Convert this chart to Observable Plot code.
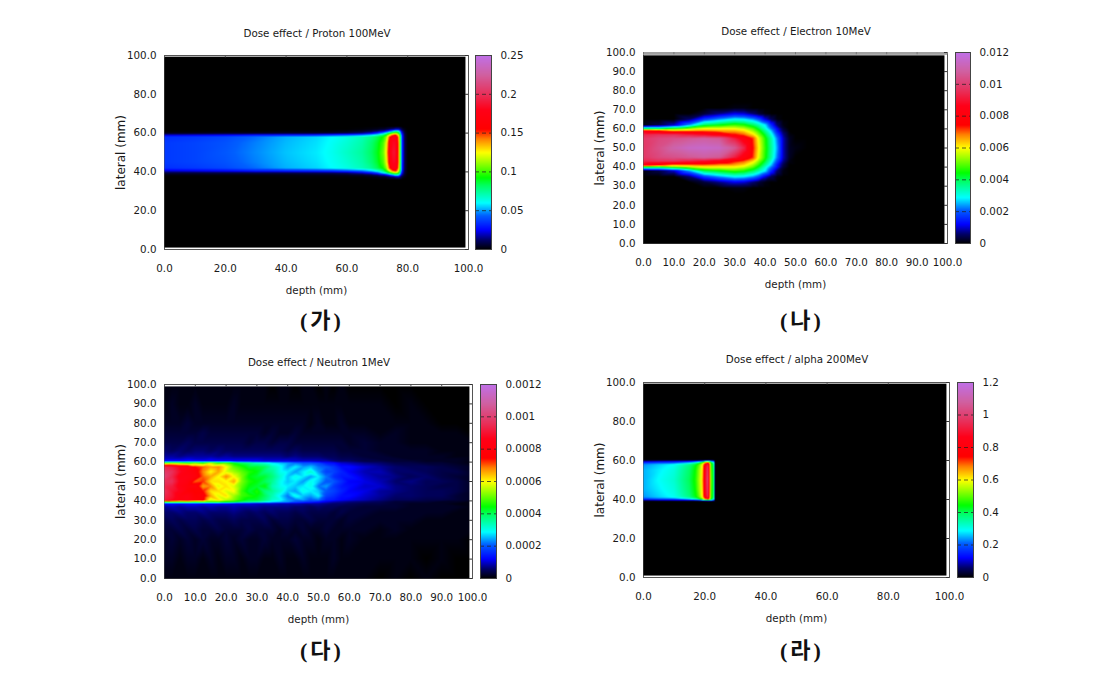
<!DOCTYPE html>
<html lang="ko">
<head>
<meta charset="utf-8">
<script src="https://cdn.jsdelivr.net/npm/d3@7"></script>
<script src="https://cdn.jsdelivr.net/npm/@observablehq/plot@0.6"></script>
<style>
html,body{margin:0;padding:0;background:#fff}
#page{position:relative;width:1100px;height:683px;overflow:hidden;background:#fff}
#page>svg{position:absolute}
.title{position:absolute;transform:translate(-50%,-50%);font:10.3px "DejaVu Sans",sans-serif;color:#1a1a1a;white-space:nowrap}
.cap{position:absolute;transform:translate(-50%,-50%);font:700 22px "Liberation Serif","Noto Sans CJK KR",serif;letter-spacing:3px;color:#111;white-space:nowrap}
</style>
</head>
<body>
<div id="page"></div>
<script>
// Palette stops as fractions of each colour bar.
const paletteStops = [0, 0.05, 0.1, 0.175, 0.24, 0.33, 0.37, 0.45, 0.5, 0.57, 0.62, 0.72, 0.8, 0.9, 1];
const paletteColors = ["#000000","#00006a","#0000ff","#0060ff","#00ffff","#00ff60","#00ff00","#a0ff00","#ffff00","#ff8000","#ff0000","#ff0018","#e8305a","#d060a0","#c070e8"];

// (가) Proton 100 MeV. Values in units of 0.001.
const protonDepth = [0,10,20,30,40,50,55,60,65,68,70,72,73,74,75,76,77,77.5,78,79,80,85,100];
const protonLateral = [0,36,37.5,38.5,39.5,40.5,42,45,50,55,58,59,60,61,62,63.5,100];
const protonValues = [
[0,0,0,0,0,0,0,0,0,0,0,0,0,0,0,0,0,0,0,0,0,0,0],
[0,0,0,0,0,0,0,0,0,0,0,0,0,0,0,0,0,0,0,0,0,0,0],
[0,0,0,0,1,1,1,1,1,2,3,5,7,10,14,20,22,15,8,2,0,0,0],
[2,2,2,2,2,3,3,4,6,9,14,22,30,40,55,70,65,45,20,4,0,0,0],
[8,8,9,10,10,11,12,14,22,30,40,60,75,90,105,115,100,70,30,6,0,0,0],
[22,24,26,30,32,34,36,40,46,55,65,80,95,120,145,155,125,85,35,7,0,0,0],
[34,36,39,45,52,56,60,64,70,76,84,95,110,150,175,178,140,95,38,8,0,0,0],
[36,38,41,47,53,57,61,66,72,80,88,102,122,165,182,182,145,100,40,8,0,0,0],
[36,38,42,48,54,58,62,68,74,82,90,106,127,172,186,186,145,100,40,8,0,0,0],
[36,38,41,47,53,57,61,66,72,80,88,102,122,165,182,182,145,100,40,8,0,0,0],
[34,36,39,45,52,56,60,64,70,76,84,95,110,150,175,178,140,95,38,8,0,0,0],
[20,22,24,28,30,32,36,40,46,55,65,80,95,120,145,155,125,85,35,7,0,0,0],
[3,3,4,4,5,5,6,8,14,22,32,50,65,85,100,110,95,65,28,6,0,0,0],
[0,0,0,0,1,1,1,2,4,7,12,20,28,38,52,68,62,42,20,4,0,0,0],
[0,0,0,0,0,0,0,0,1,2,3,5,7,10,14,20,20,14,8,2,0,0,0],
[0,0,0,0,0,0,0,0,0,0,0,0,0,0,0,0,0,0,0,0,0,0,0],
[0,0,0,0,0,0,0,0,0,0,0,0,0,0,0,0,0,0,0,0,0,0,0]
];
const protonTicks = [0,0.05,0.1,0.15,0.2,0.25];
const protonAxisX = [0,20,40,60,80,100];
const protonAxisY = [0,20,40,60,80,100];

// (나) Electron 10 MeV. Values in units of 0.0001.
const electronDepth = [0,5,10,15,20,25,30,33,36,38,40,42,44,46,48,50,54,100];
const electronLateral = [0,22,26,29,32,35,38,40,41,43,45,50,55,57,59,60,62,65,68,71,74,78,100];
const electronValues = [
[0,0,0,0,0,0,0,0,0,0,0,0,0,0,0,0,0,0],
[0,0,0,0,0,0,0,0,0,0,0,0,0,0,0,0,0,0],
[0,0,0,0,0,0,0,0,0,0,0,0,0,0,0,0,0,0],
[0,0,0,0,0,0,1,1,0,0,0,0,0,0,0,0,0,0],
[0,0,0,0,3,7,11,10,6,3,1,0,0,0,0,0,0,0],
[0,0,0,6,18,24,29,28,24,19,11,5,1,0,0,0,0,0],
[1,4,10,24,40,44,48,46,40,34,28,16,6,1,0,0,0,0],
[40,40,48,54,60,60,60,57,50,42,32,22,12,3,0,0,0,0],
[84,74,66,67,68,66,65,62,54,46,36,26,13,4,0,0,0,0],
[94,96,96,92,88,82,74,70,62,52,42,31,18,7,1,0,0,0],
[98,102,104,106,108,106,92,82,72,58,46,35,22,9,2,0,0,0],
[98,104,110,114,115,114,106,94,74,60,47,36,24,9,2,1,0,0],
[98,102,104,106,108,106,92,82,72,58,46,35,22,9,2,0,0,0],
[94,96,96,92,88,82,74,70,62,52,42,31,18,7,1,0,0,0],
[84,74,66,67,68,66,65,62,54,46,36,26,13,4,0,0,0,0],
[40,40,48,54,60,60,60,57,50,42,32,22,12,3,0,0,0,0],
[1,4,10,24,40,44,48,46,40,34,28,16,6,1,0,0,0,0],
[0,0,0,6,18,24,29,28,24,19,11,5,1,0,0,0,0,0],
[0,0,0,0,3,7,11,10,6,3,1,0,0,0,0,0,0,0],
[0,0,0,0,0,0,1,1,0,0,0,0,0,0,0,0,0,0],
[0,0,0,0,0,0,0,0,0,0,0,0,0,0,0,0,0,0],
[0,0,0,0,0,0,0,0,0,0,0,0,0,0,0,0,0,0],
[0,0,0,0,0,0,0,0,0,0,0,0,0,0,0,0,0,0]
];
const electronTicks = [0,0.002,0.004,0.006,0.008,0.01,0.012];
const electronAxisX = [0,10,20,30,40,50,60,70,80,90,100];
const electronAxisY = [0,10,20,30,40,50,60,70,80,90,100];

// (다) Neutron 1 MeV. Values in units of 0.00001.
const neutronDepth = [0,2.5,5,7.5,10,12.5,15,17.5,20,22.5,25,27.5,30,32.5,35,37.5,40,42.5,45,47.5,50,52.5,55,57.5,60,65,70,75,80,85,90,95,100];
const neutronLateral = [0,10,20,25,30,34,37,38.5,39.5,40.5,42.5,45,47.5,50,52.5,55,57.5,59.5,60.5,61.5,63,66,70,75,80,90,100];
const neutronValues = [
[1,1,1,1,1,1,1,1,1,1,1,1,1,1,1,1,1,1,1,1,1,1,1,1,1,1,0,1,0,1,0,0,0],
[2,2,1,2,2,1,2,1,2,2,1,2,2,1,1,2,1,1,2,1,1,1,2,1,1,1,1,1,1,0,1,0,0],
[2,3,2,3,2,3,2,2,3,2,3,2,2,3,2,2,2,3,2,2,1,2,2,1,2,1,1,1,1,1,1,1,0],
[3,3,4,3,4,3,3,4,3,3,3,4,3,3,3,2,3,2,3,2,2,3,2,2,2,2,1,2,1,1,1,1,1],
[4,5,4,5,5,4,5,4,4,5,4,4,4,5,3,4,4,3,3,4,3,3,3,2,3,2,2,2,2,1,1,1,1],
[6,6,7,6,6,7,6,6,6,7,6,5,6,5,6,5,5,4,5,4,4,4,3,4,3,3,2,2,2,2,2,1,1],
[8,9,8,9,9,8,9,8,8,9,8,8,8,7,7,7,7,6,6,5,6,5,5,4,4,3,3,3,2,2,2,2,1],
[12,13,12,13,13,12,12,12,12,11,11,11,10,10,10,9,9,9,8,8,8,7,6,6,5,4,4,3,2,2,2,1,1],
[50,54,52,54,50,52,50,50,46,44,40,38,36,32,28,26,24,20,18,16,14,11,9,8,7,6,5,3,3,3,2,2,1],
[92,88,82,84,78,76,58,62,56,52,46,42,42,38,32,30,24,22,24,20,22,15,14,12,11,9,7,5,5,4,4,3,2],
[94,90,82,84,76,78,66,58,62,54,48,46,44,40,34,28,22,30,26,24,28,18,16,13,13,10,8,6,6,5,5,3,2],
[96,90,86,78,74,74,62,62,58,60,48,42,46,38,36,32,26,24,30,28,26,20,18,15,12,11,8,7,6,5,5,4,2],
[94,92,84,80,80,66,68,58,62,58,50,44,42,44,34,30,28,26,28,30,22,24,17,14,13,10,10,7,6,5,4,4,2],
[96,96,86,82,70,72,62,62,60,66,52,46,44,40,36,30,26,28,24,30,26,20,20,16,12,11,9,6,7,5,5,4,2],
[100,94,84,84,80,70,66,60,68,60,52,44,42,42,38,32,26,30,28,24,28,22,16,14,14,10,8,7,5,6,4,3,2],
[98,96,88,82,78,68,60,66,58,54,50,46,44,38,36,30,28,24,28,32,24,18,18,15,12,9,9,6,6,5,4,4,2],
[94,92,86,84,74,70,66,68,60,50,46,42,42,40,34,30,24,28,24,26,22,20,17,13,13,10,8,6,5,5,4,3,2],
[50,52,50,48,52,48,56,48,50,44,40,38,34,32,28,26,24,22,20,20,18,14,13,10,9,7,6,4,4,3,3,2,1],
[14,14,13,14,14,13,13,13,13,12,12,12,12,11,11,11,11,10,10,10,9,9,7,6,6,4,4,3,3,2,2,2,1],
[10,10,10,11,10,10,11,10,10,10,10,10,10,9,9,9,9,9,8,8,8,7,6,5,5,4,3,3,2,2,2,2,1],
[8,8,7,8,8,8,8,7,8,7,7,7,7,7,7,7,6,7,6,6,6,5,5,4,4,3,3,2,2,2,2,1,1],
[6,5,6,5,6,6,5,6,5,5,5,5,5,5,5,5,4,5,4,4,4,4,4,3,3,3,2,2,2,2,1,1,1],
[4,4,4,5,4,4,4,4,4,4,4,3,4,4,3,4,4,3,3,3,3,3,3,3,2,3,2,2,1,1,1,1,1],
[3,3,3,3,3,4,3,3,3,3,3,3,3,2,3,2,2,3,2,2,2,2,2,2,2,2,1,2,1,1,1,1,0],
[2,2,2,3,2,2,2,2,2,2,2,2,2,2,2,2,2,2,2,1,2,1,1,2,1,1,1,1,1,1,0,0,0],
[1,2,1,1,2,1,1,1,1,2,1,1,1,1,1,1,1,1,1,1,1,1,1,1,1,1,1,0,1,0,0,0,0],
[1,1,1,1,1,1,1,1,1,1,1,1,1,1,0,1,1,0,1,1,0,1,0,1,0,0,0,0,0,0,0,0,0]
];
const neutronTicks = [0,0.0002,0.0004,0.0006,0.0008,0.001,0.0012];
const neutronAxisX = [0,10,20,30,40,50,60,70,80,90,100];
const neutronAxisY = [0,10,20,30,40,50,60,70,80,90,100];

// (라) alpha 200 MeV. Values in units of 0.01.
const alphaDepth = [0,5,10,15,17,18,19,19.5,20,21,21.5,22,22.5,23,23.4,100];
const alphaLateral = [0,39,39.5,40,41,42,45,50,55,57,58,59,59.8,60.3,100];
const alphaValues = [
[0,0,0,0,0,0,0,0,0,0,0,0,0,0,0,0],
[0,0,0,0,0,0,0,0,0,0,0,0,0,0,0,0],
[6,7,8,9,10,12,14,16,20,24,22,20,18,14,0,0],
[15,17,18,24,30,34,44,50,60,68,60,42,36,30,0,0],
[23,26,29,36,42,48,56,64,78,92,74,50,44,36,0,0],
[24,27,30,38,44,50,58,66,82,96,76,50,44,37,0,0],
[25,28,31,39,45,52,59,68,84,98,78,51,45,38,0,0],
[25,29,32,40,46,53,60,70,85,100,78,52,46,38,0,0],
[25,28,31,39,45,52,59,68,84,98,78,51,45,38,0,0],
[24,27,30,38,44,50,58,66,82,96,76,50,44,37,0,0],
[23,26,29,36,42,48,56,64,78,92,74,50,44,36,0,0],
[15,17,18,24,30,34,44,50,60,68,60,42,36,30,0,0],
[6,7,8,9,10,12,14,16,20,24,22,20,18,14,0,0],
[0,0,0,0,0,0,0,0,0,0,0,0,0,0,0,0],
[0,0,0,0,0,0,0,0,0,0,0,0,0,0,0,0]
];
const alphaTicks = [0,0.2,0.4,0.6,0.8,1,1.2];
const alphaAxisX = [0,20,40,60,80,100];
const alphaAxisY = [0,20,40,60,80,100];

const FONT = '"DejaVu Sans",sans-serif';
const page = document.getElementById("page");

function gridPoints(depths, laterals, rows, unit) {
  return laterals.flatMap((y, j) => depths.map((x, i) => ({x, y, v: rows[j][i] * unit})));
}
function put(svg, left, top) {
  svg.style.left = left + "px";
  svg.style.top = top + "px";
  page.appendChild(svg);
}
function addText(cls, text, x, y) {
  const d = document.createElement("div");
  d.className = cls;
  d.textContent = text;
  d.style.left = x + "px";
  d.style.top = y + "px";
  page.appendChild(d);
}
function colorScale(max) {
  return {type: "linear", domain: paletteStops.map(s => s * max), range: paletteColors, clamp: true};
}

function panel(p) {
  const mL = 60, mR = 24, mT = 6, mB = 54;
  const w = p.x100 - p.x0, h = p.y0 - p.y100;
  const fmt = d => d.toFixed(1);
  const chart = Plot.plot({
    width: w + mL + mR, height: h + mT + mB,
    marginLeft: mL, marginRight: mR, marginTop: mT, marginBottom: mB,
    style: {background: "transparent", fontFamily: FONT, fontSize: "10.3px", color: "#1a1a1a"},
    x: {domain: [0, 100]}, y: {domain: [0, 100]},
    color: colorScale(p.max),
    marks: [
      Plot.frame({stroke: "#555", strokeWidth: 1}),
      Plot.raster(gridPoints(p.depth, p.lateral, p.values, p.unit), {
        x: "x", y: "y", fill: "v", interpolate: "barycentric", pixelSize: 1,
        x1: 0, x2: p.right, y1: p.bottom, y2: p.top
      }),
      p.band ? Plot.rect([0], {x1: 0, x2: 100, y1: p.top, y2: 100, fill: "#a0a0a0"}) : null,
      Plot.ruleY(p.axisY, {x1: p.right, x2: 100, stroke: "#333"}),
      Plot.ruleX(p.axisX, {y1: 100 - 1.2, y2: 100, stroke: p.band ? "#777" : "#555"}),
      Plot.axisX(p.axisX, {tickSize: 0, tickPadding: 15, tickFormat: fmt, label: "depth (mm)", labelAnchor: "center", labelArrow: "none", labelOffset: 44, fill: "#1a1a1a"}),
      Plot.axisY(p.axisY, {tickSize: 0, tickPadding: 8, tickFormat: fmt, label: null, fill: "#1a1a1a"}),
      Plot.text(["lateral (mm)"], {frameAnchor: "left", textAnchor: "middle", rotate: -90, dx: -43, fontSize: 12, fill: "#1a1a1a"})
    ]
  });
  put(chart, p.x0 - mL, p.y100 - mT);

  const bw = p.barR - p.barL, bR = 56;
  const bar = Plot.plot({
    width: bw + 2 + bR, height: h + 12,
    marginLeft: 2, marginRight: bR, marginTop: mT, marginBottom: 6,
    style: {background: "transparent", fontFamily: FONT, fontSize: "10.3px", color: "#1a1a1a"},
    x: {domain: [0, 1], axis: null}, y: {domain: [0, p.max]},
    color: colorScale(p.max),
    marks: [
      Plot.raster({fill: (x, y) => y, x1: 0, x2: 1, y1: 0, y2: p.max, pixelSize: 1}),
      Plot.ruleY(p.ticks.slice(1, -1), {stroke: "#222", strokeDasharray: "4,3", strokeOpacity: 0.75}),
      Plot.frame({stroke: "#444", strokeWidth: 1}),
      Plot.axisY(p.ticks, {anchor: "right", tickSize: 0, tickPadding: 9, tickFormat: d => String(d), label: null, fill: "#1a1a1a"})
    ]
  });
  put(bar, p.barL - 2, p.y100 - mT);

  addText("title", p.title, p.titleX, p.titleY);
  addText("cap", p.cap, p.capX, p.capY);
}

panel({title: "Dose effect / Proton 100MeV", titleX: 317, titleY: 33, cap: "(가)", capX: 322, capY: 318,
  x0: 164, x100: 468, y0: 249, y100: 55, right: 99, top: 99.4, bottom: 1, barL: 475, barR: 491, max: 0.25,
  depth: protonDepth, lateral: protonLateral, values: protonValues, unit: 0.001, ticks: protonTicks, axisX: protonAxisX, axisY: protonAxisY});
panel({title: "Dose effect / Electron 10MeV", titleX: 796, titleY: 31, cap: "(나)", capX: 802, capY: 318, band: true,
  x0: 643, x100: 947, y0: 243, y100: 52, right: 99, top: 98.5, bottom: 0, barL: 955, barR: 970, max: 0.012,
  depth: electronDepth, lateral: electronLateral, values: electronValues, unit: 0.0001, ticks: electronTicks, axisX: electronAxisX, axisY: electronAxisY});
panel({title: "Dose effect / Neutron 1MeV", titleX: 319, titleY: 362, cap: "(다)", capX: 322, capY: 648,
  x0: 164, x100: 472, y0: 578, y100: 384, right: 99, top: 99, bottom: 0, barL: 480, barR: 496, max: 0.0012,
  depth: neutronDepth, lateral: neutronLateral, values: neutronValues, unit: 0.00001, ticks: neutronTicks, axisX: neutronAxisX, axisY: neutronAxisY});
panel({title: "Dose effect / alpha 200MeV", titleX: 797, titleY: 359, cap: "(라)", capX: 802, capY: 648,
  x0: 643, x100: 949, y0: 577, y100: 382, right: 99, top: 99.4, bottom: 1, barL: 957, barR: 973, max: 1.2,
  depth: alphaDepth, lateral: alphaLateral, values: alphaValues, unit: 0.01, ticks: alphaTicks, axisX: alphaAxisX, axisY: alphaAxisY});
</script>
</body>
</html>
